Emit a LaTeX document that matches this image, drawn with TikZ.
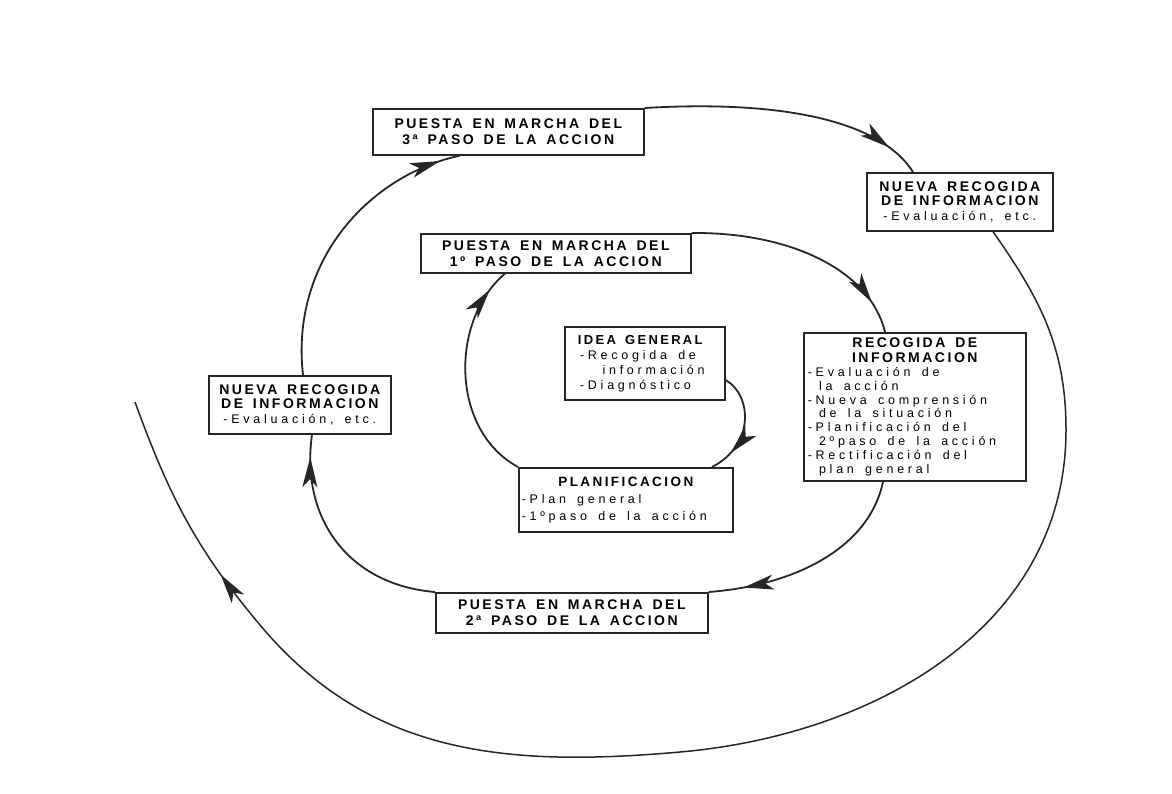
\documentclass[tikz,border=0pt]{standalone}
\usepackage{fontspec}
\setmainfont{Liberation Sans}
\newfontfamily\hdf{Liberation Sans}[LetterSpace=18]
\newfontfamily\itf{Liberation Sans}[LetterSpace=30]
\usetikzlibrary{arrows.meta,decorations.markings}
\newcommand{\hdtxt}[1]{\hdf\bfseries\fontsize{#1}{#1}\selectfont\spaceskip=0.7em plus 0.1em\relax}
\newcommand{\ittxt}[1]{\itf\mdseries\fontsize{#1}{#1}\selectfont\spaceskip=0.9em plus 0.1em\relax}
\begin{document}
\begin{tikzpicture}[x=1pt,y=-1pt,
  box/.style={draw=black!85,line width=1.6pt,rectangle,anchor=north west,inner sep=3pt},
  conn/.style={draw=black!85,line width=1.8pt},
  arr/.style={postaction={decorate,decoration={markings,mark=at position #1 with {\arrow[fill=black!75!blue!70!black,draw=none]{Stealth[length=30pt,width=15pt,inset=8pt]}}}}}
]
\useasboundingbox (0,0) rectangle (1172,793);
% boxes
\node[box,minimum width=271pt,minimum height=46pt,text width=265pt] (p3) at (372,108) {\centering\hdtxt{14}\baselineskip=16pt PUESTA EN MARCHA DEL\\3ª PASO DE LA ACCION\par};
\node[box,minimum width=186pt,minimum height=58pt,text width=180pt] (nr) at (866,172) {\centering\hdtxt{14}NUEVA RECOGIDA\\DE INFORMACION\\\ittxt{12.5}\baselineskip=15pt -Evaluación, etc.\par};
\node[box,minimum width=270pt,minimum height=39pt,text width=264pt] (p1) at (420,233) {\centering\hdtxt{14}\baselineskip=16pt PUESTA EN MARCHA DEL\\1º PASO DE LA ACCION\par};
\node[box,minimum width=160pt,minimum height=73pt,text width=152pt] (idea) at (564,326) {\raggedright\hdtxt{13}\ IDEA GENERAL\\\ittxt{12.5}\baselineskip=15pt\ -Recogida de\\\ \ \ información\\\ -Diagnóstico\par};
\node[box,minimum width=222pt,minimum height=148pt,text width=214pt] (rec) at (803,332) {{\centering\hdtxt{14}\baselineskip=15pt RECOGIDA DE\\INFORMACION\par}\raggedright\ittxt{12.5}\baselineskip=13.8pt -Evaluación de\\\ la acción\\-Nueva comprensión\\\ de la situación\\-Planificación del\\\ 2ºpaso de la acción\\-Rectificación del\\\ plan general\par};
\node[box,minimum width=182pt,minimum height=58pt,text width=176pt] (nl) at (208,375) {\centering\hdtxt{14}NUEVA RECOGIDA\\DE INFORMACION\\\ittxt{12.5}\baselineskip=15pt -Evaluación, etc.\par};
\node[box,minimum width=214pt,minimum height=64pt,text width=208pt] (plan) at (518,467) {{\centering\hdtxt{13.5}\baselineskip=17pt PLANIFICACION\par}\raggedright\ittxt{12.5}\baselineskip=17pt -Plan general\\-1ºpaso de la acción\par};
\node[box,minimum width=272pt,minimum height=40pt,text width=266pt] (p2) at (435,592) {\centering\hdtxt{14}\baselineskip=16pt PUESTA EN MARCHA DEL\\2ª PASO DE LA ACCION\par};
% free end
\coordinate (end) at (135,402);
% connectors
\draw[conn,arr=0.78] (idea.east |- 0,380) .. controls (752,395) and (755,445) .. (plan.north -| 712,0);
\draw[conn,arr=0.9] (plan.north west) .. controls (450,430) and (450,320) .. (p1.south -| 505,0);
\draw[conn,arr=0.86] (p1.north east) .. controls (790,232) and (870,270) .. (rec.north -| 885,0);
\draw[conn,arr=0.84] (rec.south -| 883,0) .. controls (870,545) and (800,585) .. (p2.north east);
\draw[conn,arr=0.9] (p2.north west) .. controls (350,585) and (300,520) .. (nl.south -| 312,0);
\draw[conn,arr=0.93] (nl.north -| 303,0) .. controls (290,260) and (370,175) .. (p3.south -| 460,0);
\draw[conn,arr=0.88] (p3.north east) .. controls (780,100) and (880,120) .. (nr.north -| 913,0);
\draw[conn,line width=1.5pt,arr=0.87] (nr.south -| 993,0) to[out=-55,in=90] (1066,430) to[out=-90,in=5] (680,752) to[out=185,in=-50] (260,625) to[out=130,in=-70] (end);
\end{tikzpicture}
\end{document}
